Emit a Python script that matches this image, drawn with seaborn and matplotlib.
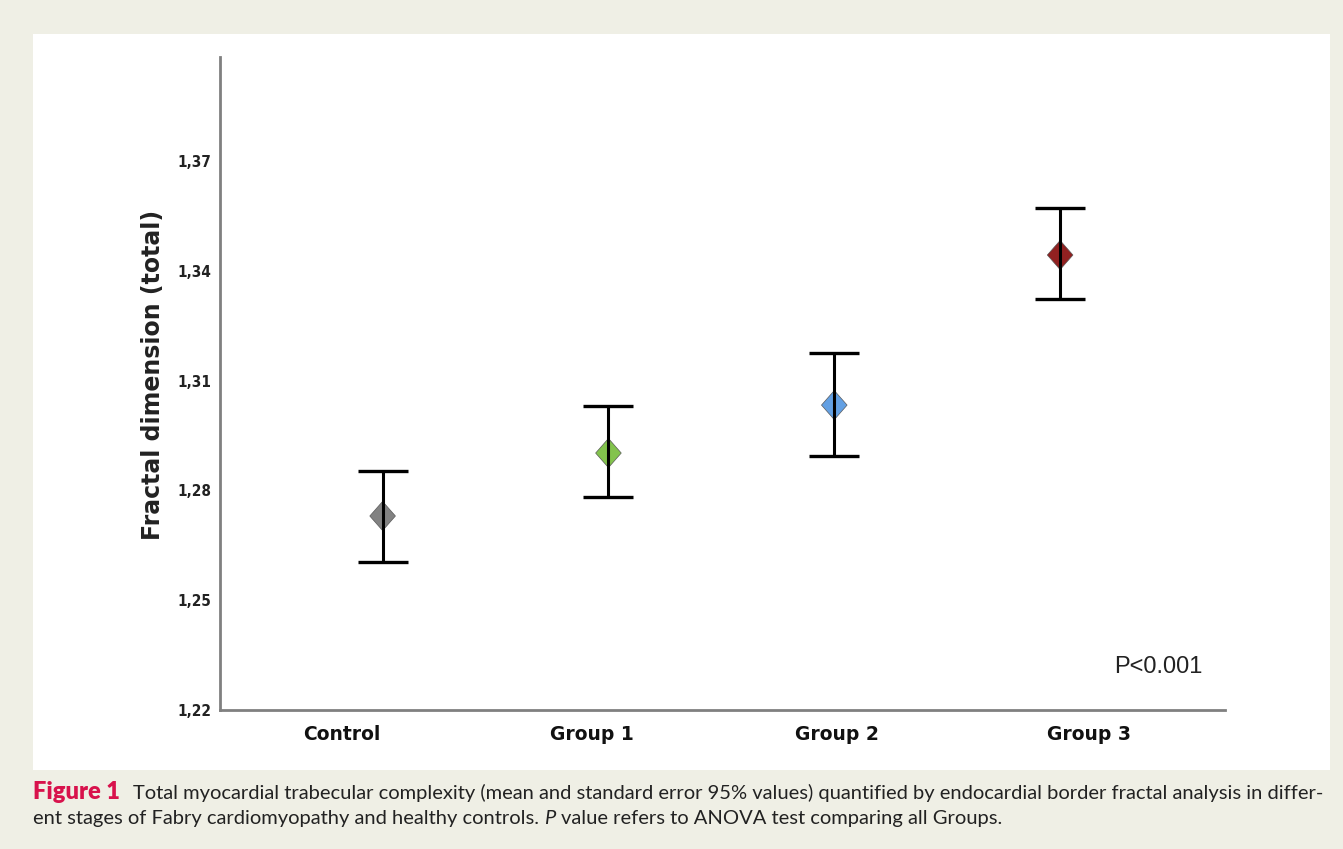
import matplotlib
matplotlib.use("Agg")
import matplotlib.pyplot as plt
from matplotlib.patches import Rectangle
from matplotlib.path import Path
import seaborn as sns
import pandas as pd
import numpy as np

groups = ["Control", "Group 1", "Group 2", "Group 3"]
means = [1.2730, 1.2902, 1.3033, 1.3443]
lower = [1.2604, 1.2782, 1.2894, 1.3323]
upper = [1.2853, 1.3031, 1.3175, 1.3572]
colors = ["#7b7b7b", "#7cc043", "#5b9be2", "#8b1515"]
yticks = [1.22, 1.25, 1.28, 1.31, 1.34, 1.37]

df = pd.DataFrame({"group": groups, "mean": means, "lower": lower, "upper": upper})

sns.set_style("white")
fig = plt.figure(figsize=(13.43, 8.49), dpi=100)
fig.patch.set_facecolor("#efefe5")
# white panel behind the chart
fig.add_artist(Rectangle((33 / 1343, 1 - 770 / 849), (1330 - 33) / 1343, (770 - 34) / 849,
                         transform=fig.transFigure, facecolor="white", edgecolor="none", zorder=0))

ax = fig.add_axes([220 / 1343, 1 - 710 / 849, (1225 - 220) / 1343, (710 - 57) / 849])
ax.set_facecolor("none")

diamond = Path([(0, 1), (0.88, 0), (0, -1), (-0.88, 0), (0, 1)],
               [Path.MOVETO, Path.LINETO, Path.LINETO, Path.LINETO, Path.CLOSEPOLY])
sns.scatterplot(data=df, x="group", y="mean", hue="group", palette=colors,
                marker=diamond, s=440, edgecolor="#555555", linewidth=0.5,
                alpha=0.95, legend=False, ax=ax, zorder=2)

x = np.arange(len(groups))
m = np.array(means)
ax.errorbar(x, m, yerr=[m - np.array(lower), np.array(upper) - m], fmt="none",
            ecolor="black", elinewidth=2.2, capsize=18, capthick=2.4, zorder=3)

ax.set_xlim(-0.72, 3.73)
ax.set_ylim(1.22, 1.3984)
ax.set_yticks(yticks)
ax.set_yticklabels([f"{v:.2f}".replace(".", ",") for v in yticks],
                   fontfamily="DejaVu Sans", fontstretch="condensed", fontweight="bold",
                   fontsize=11, color="#222222")
ax.set_xticks([-0.18, 0.925, 2.01, 3.13])
ax.set_xticklabels(groups, fontfamily="DejaVu Sans", fontweight="bold", fontsize=13.5,
                   color="#111111")
ax.tick_params(axis="both", length=0)
ax.tick_params(axis="y", pad=6)
ax.tick_params(axis="x", pad=11)
ax.set_xlabel("")
ax.set_ylabel("Fractal dimension (total)", fontfamily="DejaVu Sans", fontweight="bold",
              fontsize=17, color="#222222")
ax.yaxis.set_label_coords(-0.0547, 0.513)

for side in ["top", "right"]:
    ax.spines[side].set_visible(False)
for side in ["left", "bottom"]:
    ax.spines[side].set_color("#808080")
    ax.spines[side].set_linewidth(2)

ax.text(0.978, 0.066, "P<0.001", transform=ax.transAxes, ha="right", va="center",
        fontfamily="Liberation Sans", fontsize=17, color="#222222")

# caption
fig.canvas.draw()
r = fig.canvas.get_renderer()
cap_font = "Lato"
fs = 14.5
y1 = 1 - 799 / 849
y2 = 1 - 824 / 849
t1 = fig.text(33 / 1343, y1, "Figure 1", color="#d8124c", fontweight="heavy",
              fontfamily=cap_font, fontsize=17, va="baseline")
bb = t1.get_window_extent(r)
fig.text((bb.x1 + 13) / 1343, y1,
         "Total myocardial trabecular complexity (mean and standard error 95% values) "
         "quantified by endocardial border fractal analysis in differ-",
         color="#222222", fontfamily=cap_font, fontsize=fs, va="baseline")
t2 = fig.text(33 / 1343, y2, "ent stages of Fabry cardiomyopathy and healthy controls. ",
              color="#222222", fontfamily=cap_font, fontsize=fs, va="baseline")
bb = t2.get_window_extent(r)
t3 = fig.text(bb.x1 / 1343, y2, "P", color="#222222", fontfamily=cap_font,
              fontsize=fs, style="italic", va="baseline")
bb = t3.get_window_extent(r)
fig.text((bb.x1 + 6) / 1343, y2, "value refers to ANOVA test comparing all Groups.",
         color="#222222", fontfamily=cap_font, fontsize=fs, va="baseline")

fig.savefig("out.png", dpi=100, facecolor=fig.get_facecolor())
